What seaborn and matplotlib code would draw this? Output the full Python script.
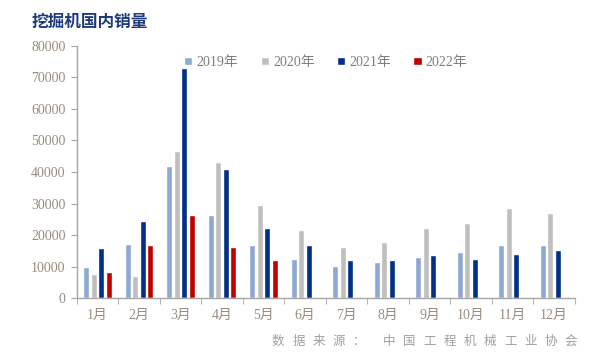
import matplotlib.pyplot as plt
import seaborn as sns
import pandas as pd
import numpy as np

months = ['1月', '2月', '3月', '4月', '5月', '6月', '7月', '8月', '9月', '10月', '11月', '12月']
years = ['2019年', '2020年', '2021年', '2022年']
sales_2019 = [10000, 17200, 42000, 26300, 16700, 12400, 10100, 11400, 13000, 14700, 17000, 17000]
sales_2020 = [7700, 6900, 46600, 43300, 29500, 21700, 16100, 17900, 22300, 23700, 28600, 27100]
sales_2021 = [16000, 24600, 73000, 41100, 22100, 16900, 12200, 12200, 13800, 12500, 13900, 15200]
sales_2022 = [8200, 17000, 26500, 16100, 12100, np.nan, np.nan, np.nan, np.nan, np.nan, np.nan, np.nan]
colors = ['#8EA9D1', '#BFBFBF', '#003087', '#C00000']
source = '数据来源：中国工程机械工业协会'

rows = []
for y, vals in zip(years, [sales_2019, sales_2020, sales_2021, sales_2022]):
    for m, v in zip(months, vals):
        rows.append({'月份': m, '年份': y, '销量': v})
df = pd.DataFrame(rows)

sns.set_style('white')
plt.rcParams['font.family'] = ['Liberation Serif', 'Noto Sans CJK SC']
tick_color = '#9a8c7c'

fig = plt.figure(figsize=(6, 3.64), dpi=100)
ax = fig.add_axes([0.128, 0.181, 0.83, 0.693])
sns.barplot(data=df, x='月份', y='销量', hue='年份', palette=colors, saturation=1,
            width=0.72, gap=0.18, order=months, hue_order=years, ax=ax)

ax.set_ylim(0, 80000)
ax.set_yticks(range(0, 80001, 10000))
ax.set_xlim(-0.5, 11.5)
ax.set_xlabel('')
ax.set_ylabel('')
for s in ['top', 'right']:
    ax.spines[s].set_visible(False)
for s in ['left', 'bottom']:
    ax.spines[s].set_color('#a6a6a6')
    ax.spines[s].set_linewidth(1)
ax.tick_params(axis='y', length=4, color='#a6a6a6', labelsize=10, labelcolor=tick_color, left=True, pad=4)
ax.tick_params(axis='x', which='major', length=0, labelsize=10, labelcolor=tick_color, pad=8)
ax.set_xticks(np.arange(-0.5, 12, 1), minor=True)
ax.tick_params(axis='x', which='minor', length=4, color='#a6a6a6', bottom=True)

leg = ax.legend(loc='upper center', bbox_to_anchor=(0.5, 1.01), ncol=4, frameon=False,
                fontsize=10, handlelength=0.6, handleheight=0.6, handletextpad=0.3,
                columnspacing=1.6)
for t in leg.get_texts():
    t.set_color('#7f7f7f')

fig.text(0.053, 0.94, '挖掘机国内销量', fontsize=12, fontweight='bold', color='#1F3A7A',
         family=['Noto Sans CJK SC'], va='center')

# 数据来源 spaced out like the original
x = 272
for i, ch in enumerate(source):
    fig.text(x / 600, 0.063, ch, fontsize=9, color='#a0a0a0',
             family=['Noto Sans CJK SC'], ha='left', va='center')
    x += 30 if ch == '：' else 20.2

fig.savefig('out.png', dpi=100)
